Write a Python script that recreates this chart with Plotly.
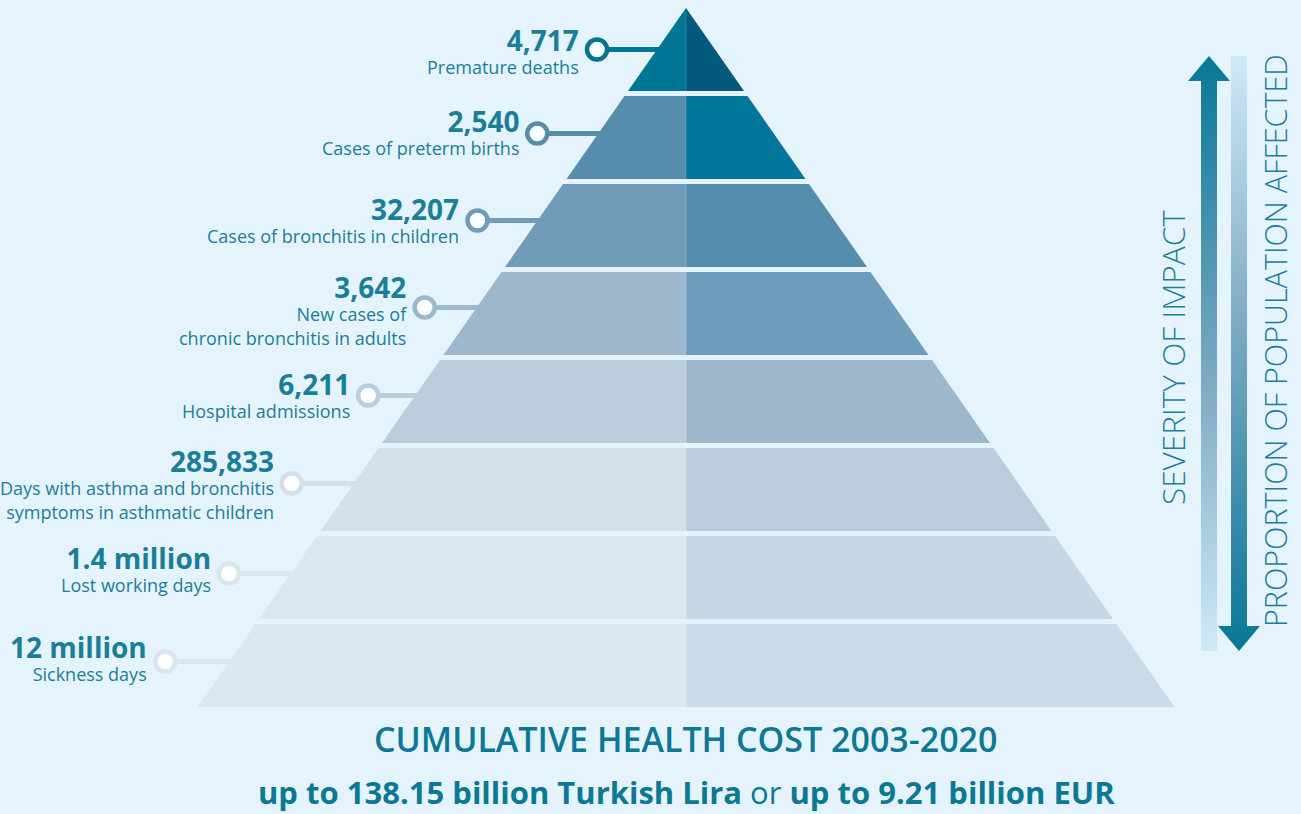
import plotly.graph_objects as go

# ---------------- data ----------------
values = ["4,717", "2,540", "32,207", "3,642", "6,211", "285,833", "1.4 million", "12 million"]
labels = [
    ["Premature deaths"],
    ["Cases of preterm births"],
    ["Cases of bronchitis in children"],
    ["New cases of", "chronic bronchitis in adults"],
    ["Hospital admissions"],
    ["Days with asthma and bronchitis", "symptoms in asthmatic children"],
    ["Lost working days"],
    ["Sickness days"],
]
title_line = "CUMULATIVE HEALTH COST 2003-2020"
cost_parts = ["up to 138.15 billion Turkish Lira", "or", "up to 9.21 billion EUR"]
axis_left = "SEVERITY OF IMPACT"
axis_right = "PROPORTION OF POPULATION AFFECTED"

# ---------------- styles / layout ----------------
W, H = 1301, 814
BG = "#e5f4fc"
VAL_COLOR = "#0b7896"
LAB_COLOR = "#1a7e9a"
FONT = "Open Sans"
LEFT_COLORS = ["#007594", "#578dac", "#709cba", "#9db8cd", "#bbcddd", "#d4e0ea", "#dbe6ef", "#dce7f0"]
RIGHT_COLORS = ["#045a7c", "#00769a", "#568dac", "#6e9dbb", "#9db8cd", "#bbcddd", "#c7d7e5", "#cbdbe7"]
RING_COLORS = ["#007594", "#578dac", "#709cba", "#9db8cd", "#bccddc", "#d4dfe9", "#dbe5ee", "#dbe5ee"]

APEX_X, APEX_Y = 686, 8
PITCH = 88          # vertical pitch of one layer
GAP = 5             # gap between layers
HALF_BASE = 488.5   # half-width of the base
BASE_Y = APEX_Y + PITCH * len(values) - GAP
SLOPE = HALF_BASE / (BASE_Y - APEX_Y)
CONNECTOR_LEN = [60, 61, 60, 52, 47, 62, 62, 64]
CONNECTOR_DY = [0, -4, -5, -6, -6, -6, -4, -4]
TEXT_DY = [0, -3, -2, 1, -2, -1, -6, -5]
VAL_SIZE, LAB_SIZE = 28, 18


def half_w(y):
    return SLOPE * (y - APEX_Y)


fig = go.Figure()
n = len(values)

# connectors (lines)
circ_x, circ_y = [], []
for i in range(n):
    top = APEX_Y + PITCH * i
    bot = top + PITCH - GAP
    mid = (top + bot) / 2 + CONNECTOR_DY[i]
    edge = APEX_X - half_w(mid)
    cx = edge - CONNECTOR_LEN[i]
    circ_x.append(cx)
    circ_y.append(mid)
    fig.add_trace(go.Scatter(x=[cx, edge + 2], y=[mid, mid], mode="lines",
                             line=dict(color=RING_COLORS[i], width=5),
                             hoverinfo="skip", showlegend=False))

# pyramid layers
for i in range(n):
    top = APEX_Y + PITCH * i
    bot = top + PITCH - GAP
    wt, wb = half_w(top), half_w(bot)
    fig.add_trace(go.Scatter(
        x=[APEX_X - wt, APEX_X, APEX_X, APEX_X - wb, APEX_X - wt],
        y=[top, top, bot, bot, top], mode="lines", fill="toself",
        fillcolor=LEFT_COLORS[i], line=dict(width=0, color=LEFT_COLORS[i]),
        hoverinfo="skip", showlegend=False))
    fig.add_trace(go.Scatter(
        x=[APEX_X, APEX_X + wt, APEX_X + wb, APEX_X, APEX_X],
        y=[top, top, bot, bot, top], mode="lines", fill="toself",
        fillcolor=RIGHT_COLORS[i], line=dict(width=0, color=RIGHT_COLORS[i]),
        hoverinfo="skip", showlegend=False))
    fig.add_trace(go.Scatter(x=[APEX_X, APEX_X], y=[top + (3 if i == 0 else 0), bot], mode="lines",
                             line=dict(color="rgba(255,255,255,0.18)", width=1),
                             hoverinfo="skip", showlegend=False))

# circles
fig.add_trace(go.Scatter(x=circ_x, y=circ_y, mode="markers",
                         marker=dict(size=20, color="white",
                                     line=dict(color=RING_COLORS, width=4.5)),
                         hoverinfo="skip", showlegend=False))

# text labels: one block per layer (bold value on top, label lines below)
annotations = []
for i in range(n):
    cx, cy = circ_x[i], circ_y[i]
    text = ("<span style='font-size:%dpx'><b>%s</b></span><br>" % (VAL_SIZE, values[i])
            + "<br>".join(labels[i]))
    annotations.append(dict(x=cx - 16, y=cy + TEXT_DY[i], xref="x", yref="y",
                            xanchor="right", yanchor="middle", align="right",
                            text=text, showarrow=False,
                            font=dict(family=FONT, size=LAB_SIZE, color=LAB_COLOR)))

# bottom text
annotations.append(dict(x=APEX_X, y=739, xref="x", yref="y", xanchor="center", yanchor="middle",
                        text=title_line, showarrow=False,
                        font=dict(family=FONT, size=34, color=VAL_COLOR, weight=600)))
annotations.append(dict(x=APEX_X, y=792, xref="x", yref="y", xanchor="center", yanchor="middle",
                        text="<b>" + cost_parts[0] + "</b> " + cost_parts[1] + " <b>" + cost_parts[2] + "</b>",
                        showarrow=False,
                        font=dict(family=FONT, size=31, color=VAL_COLOR)))

# right-hand arrows (gradient filled)
DARK, MIDC, LIGHT = "#087796", "#7eaac3", "#cfe9f9"
# up arrow (severity)
ux0, ux1, uhx0, uhx1 = 1201, 1217, 1188, 1230
u_tip, u_hb, u_bot = 56, 81, 651
fig.add_trace(go.Scatter(
    x=[(ux0 + ux1) / 2, uhx1, ux1, ux1, ux0, ux0, uhx0, (ux0 + ux1) / 2],
    y=[u_tip, u_hb, u_hb, u_bot, u_bot, u_hb, u_hb, u_tip],
    mode="lines", fill="toself", line=dict(width=0),
    fillgradient=dict(type="vertical", start=u_tip, stop=u_bot,
                      colorscale=[[0, DARK], [0.55, MIDC], [1, LIGHT]]),
    hoverinfo="skip", showlegend=False))
# down arrow (proportion)
dx0, dx1, dhx0, dhx1 = 1231, 1247, 1218, 1260
d_top, d_hb, d_tip = 56, 626, 651
fig.add_trace(go.Scatter(
    x=[dx0, dx1, dx1, dhx1, (dx0 + dx1) / 2, dhx0, dx0, dx0],
    y=[d_top, d_top, d_hb, d_hb, d_tip, d_hb, d_hb, d_top],
    mode="lines", fill="toself", line=dict(width=0),
    fillgradient=dict(type="vertical", start=d_top, stop=d_tip,
                      colorscale=[[0, LIGHT], [0.45, MIDC], [1, DARK]]),
    hoverinfo="skip", showlegend=False))

annotations.append(dict(x=1172, y=358, xref="x", yref="y", xanchor="center", yanchor="middle",
                        text=axis_left, textangle=-90, showarrow=False,
                        font=dict(family=FONT, size=31.5, color=LAB_COLOR, weight=300)))
annotations.append(dict(x=1275, y=341, xref="x", yref="y", xanchor="center", yanchor="middle",
                        text=axis_right, textangle=-90, showarrow=False,
                        font=dict(family=FONT, size=30.5, color=LAB_COLOR, weight=300)))

fig.update_layout(
    width=W, height=H, margin=dict(l=0, r=0, t=0, b=0, pad=0),
    paper_bgcolor=BG, plot_bgcolor=BG, showlegend=False,
    xaxis=dict(range=[0, W], visible=False, fixedrange=True),
    yaxis=dict(range=[H, 0], visible=False, fixedrange=True),
    annotations=annotations,
)

fig.write_html("out.html", config={"displayModeBar": False})
